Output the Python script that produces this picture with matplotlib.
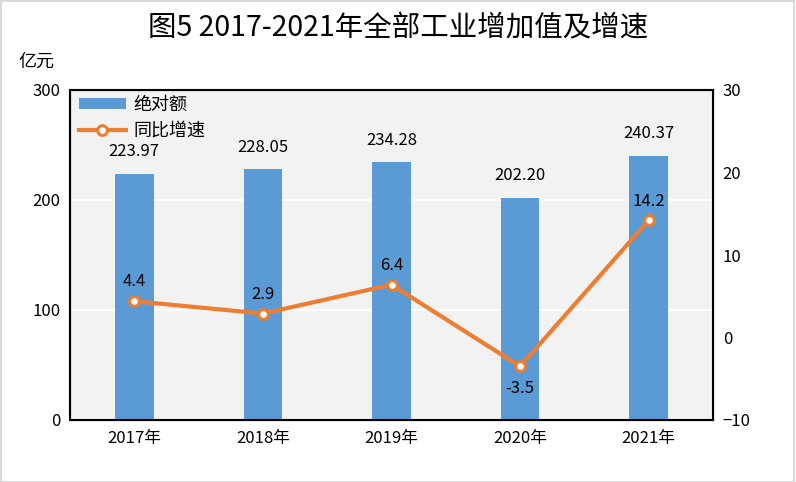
import matplotlib.pyplot as plt
import numpy as np

plt.rcParams['font.family'] = ['Noto Sans CJK SC', 'DejaVu Sans']

years = ['2017年', '2018年', '2019年', '2020年', '2021年']
value = [223.97, 228.05, 234.28, 202.20, 240.37]
growth = [4.4, 2.9, 6.4, -3.5, 14.2]

fig = plt.figure(figsize=(7.96, 4.82), dpi=100)
fig.patches.append(plt.Rectangle((0.001, 0.001), 0.997, 0.997, transform=fig.transFigure,
                                 fill=False, edgecolor='#d9d9d9', linewidth=1.5))
ax = fig.add_axes([70 / 796, 1 - 420 / 482, 643 / 796, 330 / 482])
ax.set_facecolor('#f2f2f2')
x = np.arange(len(years))
ax.bar(x, value, width=0.30, color='#5b9bd5', label='绝对额', zorder=2)
ax.set_ylim(0, 300)
ax.set_yticks([0, 100, 200, 300])
ax.set_xlim(-0.5, 4.5)
ax.set_xticks(x)
ax.set_xticklabels(years)
ax.grid(axis='y', color='white', linewidth=1.2, zorder=1)
ax.tick_params(length=0, labelsize=12, pad=7)
for s in ax.spines.values():
    s.set_linewidth(1.5)
for i, v in enumerate(value):
    ax.text(i, v + 12, f'{v:.2f}', ha='center', va='bottom', fontsize=12)

ax2 = ax.twinx()
ax2.plot(x, growth, color='#ed7d31', linewidth=3, marker='o', markersize=7,
         markerfacecolor='white', markeredgecolor='#ed7d31', markeredgewidth=2.2,
         label='同比增速', zorder=3)
ax2.set_ylim(-10, 30)
ax2.set_yticks([-10, 0, 10, 20, 30])
ax2.tick_params(length=0, labelsize=12, pad=7)
for i, g in enumerate(growth):
    if g < 0:
        ax2.text(i, g - 1.6, f'{g}', ha='center', va='top', fontsize=12)
    else:
        ax2.text(i, g + 1.3, f'{g}', ha='center', va='bottom', fontsize=12)

h1, l1 = ax.get_legend_handles_labels()
h2, l2 = ax2.get_legend_handles_labels()
ax2.legend(h1 + h2, l1 + l2, loc='upper left', bbox_to_anchor=(-0.003, 1.015), frameon=False,
           fontsize=13, handlelength=2.6, handleheight=0.6, handletextpad=0.4,
           labelspacing=0.45, borderaxespad=0.2)

fig.text(0.5, 1 - 28 / 482, '图5 2017-2021年全部工业增加值及增速', ha='center', va='center', fontsize=20.5)
fig.text(18 / 796, 1 - 62 / 482, '亿元', ha='left', va='center', fontsize=13)

fig.savefig('out.png', dpi=100)
